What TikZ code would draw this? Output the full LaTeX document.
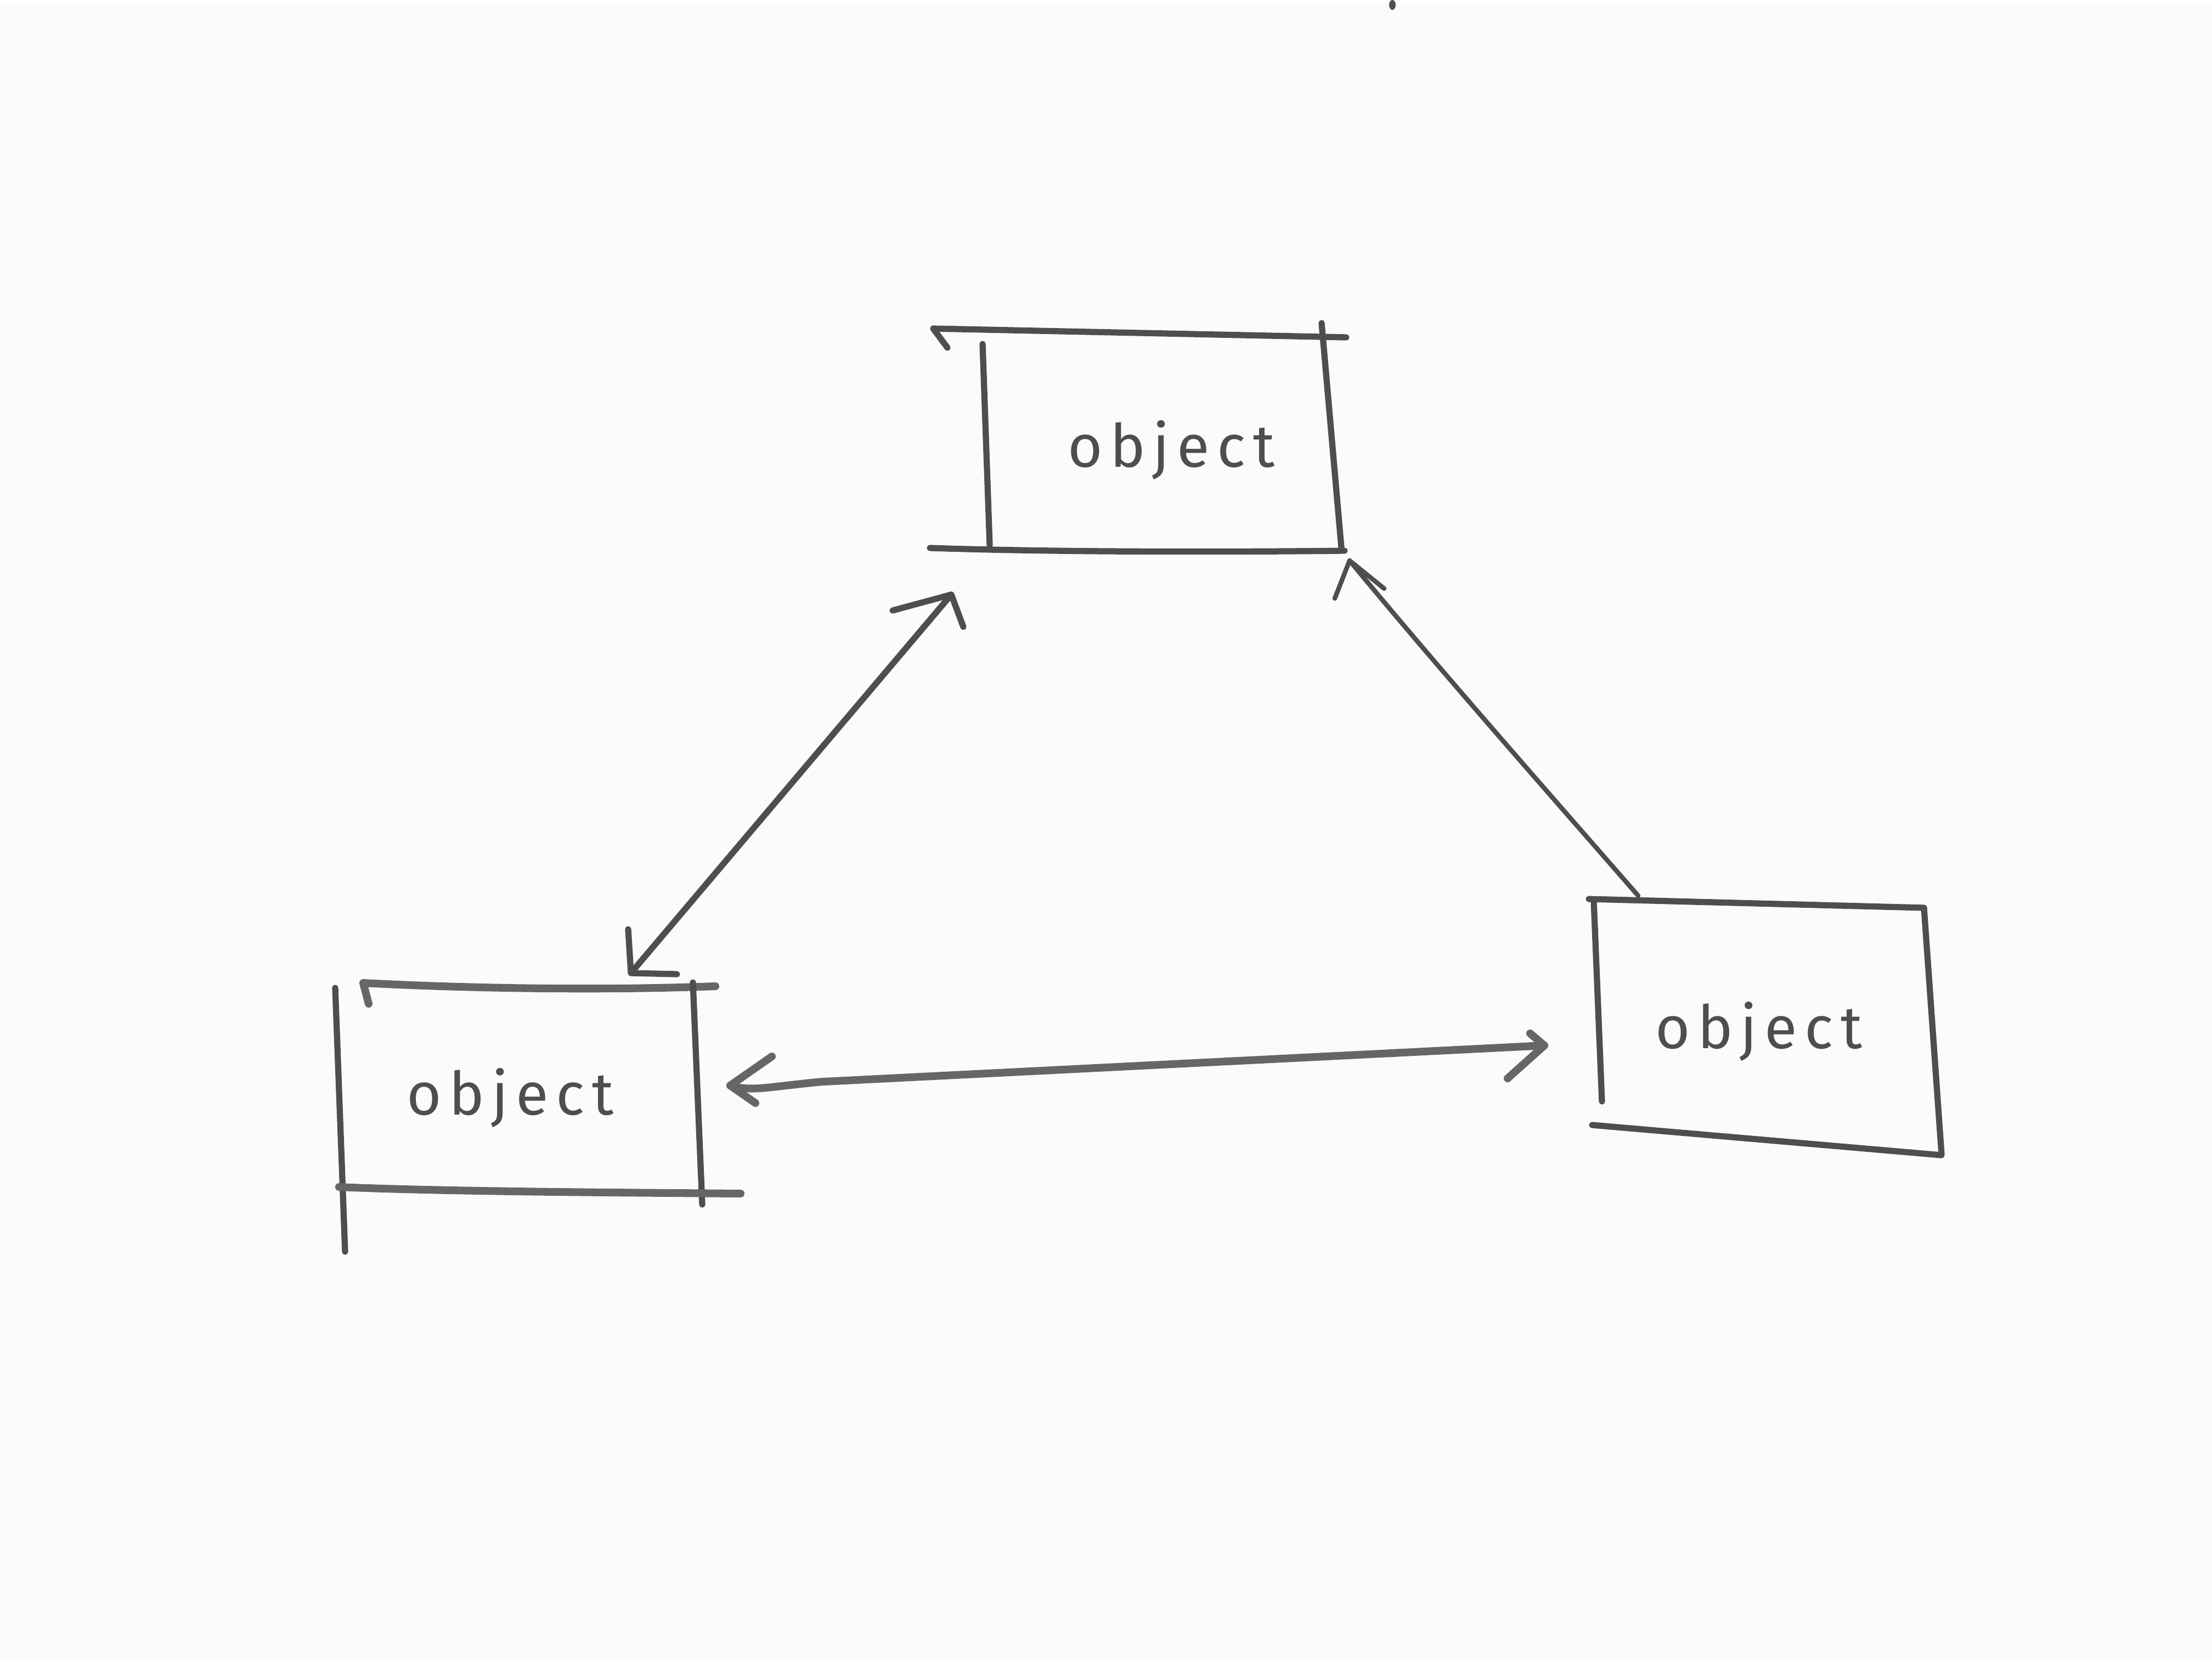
\documentclass[tikz,border=0pt]{standalone}
\usepackage{fontspec}
\setmainfont{Fira Sans}
\newfontfamily\handfont[LetterSpace=12.5]{Fira Sans}
\definecolor{paper}{HTML}{FBFBFB}
\definecolor{ink}{HTML}{4E4E4E}
\definecolor{softink}{HTML}{666666}
\begin{document}
\begin{tikzpicture}[x=0.01cm,y=-0.01cm,
  pen/.style={draw=ink,line width=3.2pt,line cap=round,line join=round},
  finepen/.style={draw=ink,line width=2.4pt,line cap=round,line join=round},
  softpen/.style={draw=softink,line width=4pt,line cap=round,line join=round},
  lbl/.style={inner sep=0pt,anchor=base,text=ink,font=\handfont\fontsize{31}{34}\selectfont}]

% sheet
\fill[paper] (0,0) rectangle (4032,3024);
\fill[ink] (2538,3) ellipse (6 and 9);

% object labels
\node[lbl] (A) at (2135,845) {object};
\node[lbl] (B) at (930,2026) {object};
\node[lbl] (C) at (3206,1905) {object};

% top box, sketched edges
\draw[pen] (1727,628) -- (1701,593) -- (2454,609);
\draw[pen] (1791,621) -- (1804,988);
\draw[pen] (2409,583) -- (2445,992);
\draw[pen] (1695,993) .. controls (1900,1000) and (2200,1001) .. (2451,998);

% left box, sketched edges
\draw[softpen] (672,1824) -- (662,1786) .. controls (850,1796) and (1100,1800) .. (1304,1792);
\draw[pen] (611,1795) -- (629,2276);
\draw[pen] (1263,1785) -- (1280,2190);
\draw[softpen] (618,2158) .. controls (800,2166) and (1100,2168) .. (1350,2170);

% right box, sketched edges
\draw[pen] (2896,1633) -- (3507,1649);
\draw[pen] (2905,1635) -- (2920,2002);
\draw[pen] (3507,1649) -- (3539,2098);
\draw[pen] (2902,2045) -- (3539,2100);

% connector ends
\coordinate (ab1) at (1150,1768);
\coordinate (ab2) at (1734,1078);
\coordinate (ca1) at (2986,1627);
\coordinate (ca2) at (2460,1016);
\coordinate (bc1) at (1331,1973);
\coordinate (bc2) at (2815,1900);

% left box <-> top box
\draw[pen] (ab1) -- (ab2);
\draw[pen] (ab2) ++(-107,29) -- (ab2) -- ++(22,59);
\draw[pen] (ab1) ++(-5,-80) -- (ab1) -- ++(84,2);

% right box -> top box
\draw[finepen] (ca1) .. controls (2810,1425) and (2620,1210) .. (ca2);
\draw[finepen] (ca2) ++(-27,69) -- (ca2) -- ++(63,51);

% left box <-> right box
\draw[softpen] (bc1) .. controls (1370,1985) and (1400,1975) .. (1500,1966) -- (bc2);
\draw[softpen] (bc1) ++(76,-53) -- (bc1) -- ++(46,32);
\draw[softpen] (bc2) ++(-26,-22) -- (bc2) -- ++(-67,60);
\end{tikzpicture}
\end{document}
